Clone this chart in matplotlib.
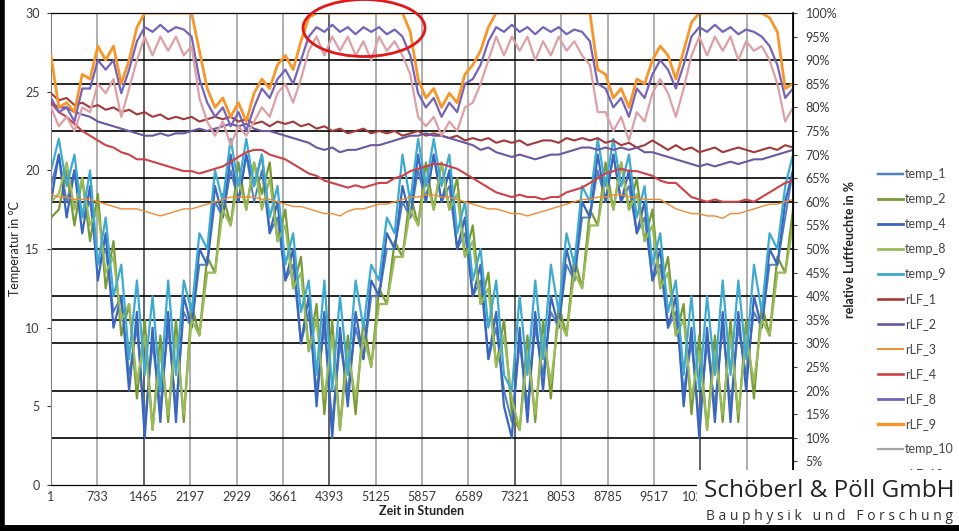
import numpy as np
import matplotlib
matplotlib.use("Agg")
import matplotlib.pyplot as plt
from matplotlib.lines import Line2D
from matplotlib.patches import Ellipse, Rectangle

plt.rcParams['font.family'] = ['Lato', 'DejaVu Sans']

# --- Daten (96 Stützstellen über 1..11713 h) ---
temp_1 = [19, 21, 18, 20, 17, 18, 14, 15, 11, 12, 7, 10,
          4, 9, 5, 10, 5, 11, 10, 14, 14, 18, 17, 20,
          18, 21, 18, 20, 16, 17, 13, 14, 9, 11, 6, 10,
          4, 9, 6, 10, 8, 12, 12, 15, 15, 18, 17, 20,
          18, 21, 18, 19, 15, 16, 12, 13, 8, 10, 6, 4,
          9, 5, 10, 7, 11, 10, 14, 13, 17, 17, 20, 18,
          21, 18, 19, 16, 17, 13, 14, 10, 11, 6, 9, 4,
          9, 5, 10, 5, 10, 7, 11, 10, 14, 14, 17, 20]
temp_2 = [17, 17.5, 20, 16.5, 19.5, 15.5, 18.5, 12.5, 15.5, 9.5, 11.5, 5.5,
          10.5, 3.5, 9.5, 4, 10.5, 4, 11.5, 9.5, 14.5, 13.5, 18.5, 16.5,
          20.5, 17.5, 20.5, 18.5, 20.5, 15.5, 17.5, 12.5, 14.5, 8.5, 11.5, 4.5,
          10.5, 3.5, 9.5, 4.5, 10.5, 7.5, 12.5, 11.5, 15.5, 14.5, 18.5, 16.5,
          20.5, 17.5, 20.5, 17.5, 19.5, 14.5, 16.5, 11.5, 13.5, 7.5, 10.5, 4.5,
          3.5, 9.5, 4, 10.5, 5.5, 11.5, 9.5, 14.5, 12.5, 17.5, 16.5, 20.5,
          17.5, 20.5, 17.5, 19.5, 15.5, 17.5, 12.5, 14.5, 9.5, 11.5, 4.5, 9.5,
          3.5, 9.5, 4, 10.5, 4, 10.5, 5.5, 11.5, 9.5, 14.5, 13.5, 17.5]
temp_4 = [18, 21, 17, 20, 16, 19, 13, 16, 10, 12, 6, 11,
          3, 10, 4, 11, 4, 12, 10, 15, 14, 19, 17, 21,
          18, 21, 19, 21, 16, 18, 13, 15, 9, 12, 5, 11,
          3, 10, 5, 11, 8, 13, 12, 16, 15, 19, 17, 21,
          18, 21, 18, 20, 15, 17, 12, 14, 8, 11, 5, 3,
          10, 4, 11, 6, 12, 10, 15, 13, 18, 17, 21, 18,
          21, 18, 20, 16, 18, 13, 15, 10, 12, 5, 10, 3,
          10, 4, 11, 4, 11, 6, 12, 10, 15, 14, 18, 20]
temp_8 = [18, 18.5, 20.5, 17.5, 19.5, 16.5, 17.5, 13.5, 14.5, 10.5, 11.5, 6.5,
          9.5, 3.5, 8.5, 4.5, 9.5, 4.5, 10.5, 9.5, 13.5, 13.5, 17.5, 16.5,
          19.5, 17.5, 20.5, 17.5, 19.5, 15.5, 16.5, 12.5, 13.5, 8.5, 10.5, 5.5,
          9.5, 3.5, 8.5, 5.5, 9.5, 7.5, 11.5, 11.5, 14.5, 14.5, 17.5, 16.5,
          19.5, 17.5, 20.5, 17.5, 18.5, 14.5, 15.5, 11.5, 12.5, 7.5, 9.5, 5.5,
          3.5, 8.5, 4.5, 9.5, 6.5, 10.5, 9.5, 13.5, 12.5, 16.5, 16.5, 19.5,
          17.5, 20.5, 17.5, 18.5, 15.5, 16.5, 12.5, 13.5, 9.5, 10.5, 5.5, 8.5,
          3.5, 8.5, 4.5, 9.5, 4.5, 9.5, 6.5, 10.5, 9.5, 13.5, 13.5, 16.5]
temp_9 = [20, 22, 19, 21, 17, 20, 14, 17, 12, 14, 8, 13,
          7, 12, 6, 13, 7, 13, 11, 16, 15, 20, 18, 22,
          19, 22, 19, 21, 17, 19, 14, 16, 11, 13, 7, 13,
          6, 12, 7, 13, 10, 14, 13, 17, 16, 21, 18, 22,
          19, 22, 19, 21, 16, 18, 13, 15, 10, 13, 7, 6,
          12, 7, 13, 8, 14, 11, 16, 14, 19, 18, 22, 19,
          22, 19, 21, 17, 19, 14, 16, 11, 13, 7, 12, 6,
          12, 7, 13, 7, 13, 8, 14, 11, 16, 15, 19, 21]

rLF_1 = [83, 81.5, 82, 80.5, 81, 80, 80.5, 79.5, 80, 79, 79.5, 78.5,
         79, 78, 78.5, 77.5, 78, 77.5, 78, 77, 77.5, 78, 77.5, 78,
         77, 77.5, 76.5, 77, 76, 77, 76.5, 77, 76, 76.5, 75.5, 76,
         75, 75.5, 74.5, 75, 75.5, 74.5, 75, 74.5, 75, 74, 74.5, 75,
         74, 74.5, 74, 73.5, 74, 73, 73.5, 73, 73.5, 72.5, 73, 72.5,
         73, 72, 72.5, 73, 73, 72.5, 73.5, 73, 73.5, 73, 73.5, 72.5,
         73, 72, 72.5, 71.5, 72, 73, 72, 71, 72, 71, 71.5, 70.5,
         71, 71.5, 70.5, 71, 71.5, 71, 70.5, 71, 71.5, 71, 72, 71.5]
rLF_2 = [81, 80, 80, 79, 78.5, 78, 77, 76.5, 76, 75.5, 75, 74.5,
         74, 74, 74.5, 74, 74.5, 74.5, 75, 75.5, 75, 75.5, 76, 76.5,
         76, 76.5, 75.5, 75, 75, 74.5, 74, 73.5, 73, 72.5, 71.5, 71,
         71.5, 70.5, 71, 71, 71.5, 72, 72, 72.5, 73, 73.5, 74, 74,
         74.5, 74, 74, 73.5, 73, 72.5, 72, 71, 71.5, 70.5, 70, 69.5,
         70, 69.5, 69, 69.5, 70, 70, 70.5, 71, 71.5, 71.5, 71, 71.5,
         71, 71.5, 71, 71.5, 70.5, 70.5, 70, 69.5, 69, 68.5, 68, 67.5,
         68, 67.5, 68, 68.5, 68, 68.5, 69, 69, 69.5, 70, 70.5, 71]
rLF_3 = [61.5, 61, 61, 60.5, 60.5, 60.5, 60, 59.5, 59, 58.5, 58.5, 58.5,
         58, 57.5, 57, 57.5, 58, 58.5, 58.5, 59, 59.5, 60, 60.5, 61,
         61, 61, 61, 60.5, 60.5, 60, 59.5, 59, 59, 58.5, 58, 57.5,
         57.5, 57, 58, 58.5, 58.5, 59, 59.5, 59.5, 60, 60.5, 61, 61,
         61.5, 61.5, 61, 61, 60.5, 60, 59.5, 59, 58.5, 58.5, 58, 57.5,
         57.5, 57, 57.5, 58, 58.5, 59, 59.5, 60, 60.5, 60.5, 61, 61,
         61.5, 61.5, 61, 61, 60.5, 60.5, 60.5, 59.5, 58.5, 58, 57.5, 57.5,
         57, 57, 56.5, 57.5, 57.5, 58, 58.5, 59, 59.5, 59.5, 60, 60.5]
rLF_4 = [81, 79, 78, 76.5, 75, 74, 73, 72, 71.5, 70.5, 70, 69,
         69, 68.5, 68, 67.5, 67, 66.5, 66.5, 66, 66.5, 67, 67.5, 68.5,
         69.5, 70.5, 71, 71, 70, 69.5, 69, 68, 67, 66, 65.5, 64.5,
         64, 63.5, 63, 63.5, 63, 63.5, 64, 64, 65, 65.5, 66.5, 67,
         67.5, 68, 68, 67.5, 67, 66, 65, 64, 63, 62, 61.5, 61,
         61.5, 61, 61, 60.5, 61, 61, 62, 62.5, 63, 64, 65, 66,
         66.5, 67, 66.5, 66.5, 66, 65.5, 64.5, 64, 64, 62.5, 61, 60.5,
         60, 60.5, 60, 60, 60, 60.5, 60, 61, 62, 63, 64, 64.5]
rLF_8 = [82, 79, 80, 77, 84, 84, 90, 88, 90, 83, 88, 94,
         97, 96, 97.5, 96, 97, 96.5, 95, 86, 81, 78, 80, 76,
         79, 75, 80, 84, 82, 86, 88, 85, 90, 95, 97, 96,
         97.5, 96, 97, 95.5, 97, 96, 97, 95.5, 96.5, 95, 91, 83,
         80, 82, 78, 81, 79, 85, 86, 89, 94, 97, 96, 97.5,
         96, 97, 95.5, 97, 96, 97, 95.5, 96.5, 96, 94, 85, 84,
         80, 82, 78, 84, 82, 87, 90, 88, 84, 89, 95, 97,
         96, 97.5, 96, 97, 95.5, 96.5, 96, 95, 93, 89, 82, 84]
rLF_9 = [91, 80, 81, 79, 87, 86, 93, 90, 93, 85, 90, 97,
         100, 100, 100, 100, 100, 100, 100, 92, 84, 80, 82, 78,
         81, 77, 83, 86, 84, 89, 91, 88, 94, 99, 100, 100,
         100, 100, 100, 100, 100, 100, 100, 100, 100, 100, 96, 86,
         82, 84, 80, 83, 81, 87, 89, 92, 97, 100, 100, 100,
         100, 100, 100, 100, 100, 100, 100, 100, 100, 100, 88, 87,
         82, 84, 80, 86, 85, 90, 93, 91, 86, 92, 98, 100,
         100, 100, 100, 100, 100, 100, 100, 100, 99, 96, 84, 85]
rLF_10 = [80, 76, 78, 75, 80, 79, 85, 83, 86, 78, 84, 90,
          95, 91, 95, 92, 95, 91, 93, 82, 77, 74, 77, 72,
          76, 74, 77, 80, 78, 83, 85, 81, 86, 92, 95, 91,
          95, 92, 95, 91, 94, 90, 95, 92, 94, 91, 87, 78,
          76, 78, 74, 77, 75, 80, 81, 85, 90, 95, 91, 95,
          92, 95, 90, 94, 91, 95, 92, 94, 91, 89, 79, 79,
          75, 78, 73, 79, 77, 83, 86, 83, 78, 84, 91, 95,
          91, 95, 92, 95, 90, 94, 92, 93, 90, 85, 77, 80]

x_ticks = [1, 733, 1465, 2197, 2929, 3661, 4393, 5125, 5857, 6589,
           7321, 8053, 8785, 9517, 10249, 10981, 11713]
x_labels = ["1", "733", "1465", "2197", "2929", "3661", "4393", "5125", "5857",
            "6589", "7321", "8053", "8785", "9517", "10249", "", ""]
dark_x = [1465, 4393, 7321, 10249]
grid_pct = [10, 20, 30, 35, 40, 50, 60, 65, 75, 85, 90, 100]
x_end = 11713

temp_series = [
    ("temp_1", temp_1, "#4F81BD", 1.4),
    ("temp_2", temp_2, "#7A9A35", 1.6),
    ("temp_4", temp_4, "#3A66C0", 1.6),
    ("temp_8", temp_8, "#9BBB59", 1.6),
    ("temp_9", temp_9, "#3FAAD0", 1.6),
]
rlf_series = [
    ("rLF_1", rLF_1, "#A33A3A", 1.5),
    ("rLF_2", rLF_2, "#6A58A0", 1.5),
    ("rLF_3", rLF_3, "#F08A32", 1.0),
    ("rLF_4", rLF_4, "#CC4248", 1.5),
    ("rLF_8", rLF_8, "#7463B8", 1.6),
    ("rLF_9", rLF_9, "#F7962A", 2.0),
    ("rLF_10", rLF_10, "#DCA0A6", 1.6),
]

fig = plt.figure(figsize=(9.59, 5.31), dpi=100)
W, H = 959.0, 531.0
ax = fig.add_axes([51 / W, 1 - 485 / H, (793 - 51) / W, (485 - 13) / H])
ax2 = ax.twinx()

# Gitter
for xv in x_ticks:
    c = "#555555" if xv in dark_x else "#A8A8A8"
    ax.axvline(xv, color=c, lw=1.3, zorder=0)
for p in grid_pct:
    ax.axhline(p * 0.3, color="black", lw=1.2, zorder=0.5)

for name, vals, col, lw in temp_series:
    hrs = np.linspace(1, x_end, len(vals))
    ax.plot(hrs, vals, color=col, lw=lw, label=name, zorder=2)

for name, vals, col, lw in rlf_series:
    hrs = np.linspace(1, x_end, len(vals))
    ax2.plot(hrs, vals, color=col, lw=lw, label=name, zorder=2)

ax.set_xlim(1, x_end)
ax.set_ylim(0, 30)
ax2.set_ylim(0, 100)

tick_col = "#3A3A3A"
ax.set_xticks(x_ticks)
ax.set_xticklabels(x_labels)
ax.set_yticks([0, 5, 10, 15, 20, 25, 30])
ax2.set_yticks(range(0, 101, 5))
ax2.set_yticklabels([f"{v}%" for v in range(0, 101, 5)])
ax.tick_params(axis="both", labelsize=9, colors=tick_col, length=3, width=0.8)
ax.tick_params(axis="y", pad=5)
ax.tick_params(axis="x", pad=4, length=0)
ax2.tick_params(axis="y", labelsize=9, colors=tick_col, length=3, width=0.8, pad=6)

ax.spines["left"].set_color("#808080")
ax.spines["bottom"].set_color("black")
ax.spines["top"].set_color("black")
ax2.spines["right"].set_color("black")
ax2.spines["right"].set_linewidth(1.2)
ax2.spines["left"].set_visible(False)

ax.set_xlabel("Zeit in Stunden", fontsize=9, fontweight="bold", color="#222222", labelpad=2)
ax.set_ylabel("Temperatur in °C", fontsize=9, color="#222222", labelpad=3)
ax2.set_ylabel("relative Luftfeuchte in %", fontsize=9, fontweight="bold",
               color="#222222", labelpad=5)

# Legende
handles = [Line2D([], [], color=c, lw=lw + 0.4) for _, _, c, lw in temp_series]
labels = [n for n, _, _, _ in temp_series]
for n, _, c, lw in rlf_series[:6]:
    handles.append(Line2D([], [], color=c, lw=lw + 0.4))
    labels.append(n)
handles.append(Line2D([], [], color="#A5A5A5", lw=1.6))
labels.append("temp_10")
handles.append(Line2D([], [], color=rlf_series[6][2], lw=2))
labels.append("rLF_10")
fig.legend(handles, labels, loc="upper left", bbox_to_anchor=(867 / W, 1 - 157 / H),
           frameon=False, fontsize=9, labelspacing=1.04, handlelength=2.0,
           handletextpad=0.15, labelcolor="#444444")

# rote Markierung
fig.add_artist(Ellipse((364 / W, 1 - 28 / H), 122 / W, 57 / H, transform=fig.transFigure,
                       fill=False, edgecolor="#E01818", lw=2, zorder=8))

# Logo
fig.add_artist(Rectangle((697 / W, 0), 262 / W, 61 / H, transform=fig.transFigure,
                         facecolor="white", edgecolor="none", zorder=10))
fig.text(829 / W, 1 - 491 / H, "Schöberl & Pöll GmbH", fontsize=17.5, family="Open Sans",
         color="#222222", ha="center", va="center", zorder=11)
fig.text(829 / W, 1 - 516 / H, "B a u p h y s i k   u n d   F o r s c h u n g",
         fontsize=10, family="Open Sans", color="#333333", ha="center", va="center", zorder=11)

# Rahmen
fig.add_artist(Line2D([0.002, 0.002], [0, 1], transform=fig.transFigure, color="black", lw=4, zorder=20))
fig.add_artist(Line2D([0, 1], [0.006, 0.006], transform=fig.transFigure, color="black", lw=5, zorder=20))

fig.savefig("out.png", dpi=100)
